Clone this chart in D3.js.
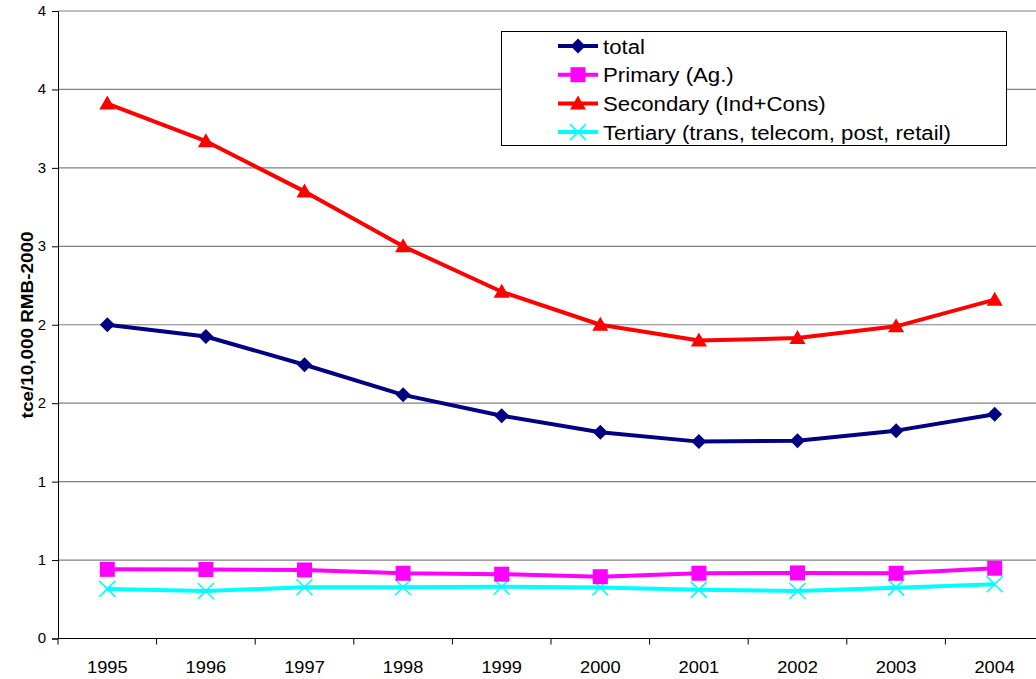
<!DOCTYPE html>
<html>
<head>
<meta charset="utf-8">
<script src="https://cdn.jsdelivr.net/npm/d3@7"></script>
<style>
  body { margin: 0; background: #fff; }
  svg text { font-family: "Liberation Sans", Arial, sans-serif; fill: #000; }
</style>
</head>
<body>
<svg id="chart" width="1036" height="679"></svg>
<script>
// data
var years = ["1995","1996","1997","1998","1999","2000","2001","2002","2003","2004"];
var total     = [2.00, 1.925, 1.745, 1.553, 1.42, 1.315, 1.255, 1.26, 1.325, 1.43];
var primary   = [0.441, 0.44, 0.437, 0.416, 0.41, 0.394, 0.416, 0.418, 0.416, 0.448];
var secondary = [3.41, 3.17, 2.85, 2.50, 2.21, 2.00, 1.90, 1.915, 1.99, 2.16];
var tertiary  = [0.316, 0.303, 0.327, 0.327, 0.33, 0.325, 0.31, 0.303, 0.324, 0.346];
var yTicks = [0, 0.5, 1, 1.5, 2, 2.5, 3, 3.5, 4];
var seriesNames = ["total", "Primary (Ag.)", "Secondary (Ind+Cons)", "Tertiary (trans, telecom, post, retail)"];

var series = [
  { name: seriesNames[0], values: total,     color: "#000080", marker: "diamond" },
  { name: seriesNames[1], values: primary,   color: "#ff00ff", marker: "square" },
  { name: seriesNames[2], values: secondary, color: "#ff0000", marker: "triangle" },
  { name: seriesNames[3], values: tertiary,  color: "#00ffff", marker: "cross" }
];

var svg = d3.select("#chart");
var plotLeft = 58, plotRight = 1044, plotTop = 11, plotBottom = 638.5;

var x = d3.scaleBand().domain(years).range([plotLeft, plotRight]);
var y = d3.scaleLinear().domain([0, 4]).range([plotBottom, plotTop]);

// the original text is a bit wider than Liberation Sans, stretch it
function stretch(sel, k) {
  sel.each(function() {
    var w = this.getComputedTextLength();
    d3.select(this).attr("textLength", w * k).attr("lengthAdjust", "spacingAndGlyphs");
  });
}

// gridlines
svg.append("g").selectAll("line").data(yTicks.filter(function(d) { return d > 0; }))
  .enter().append("line")
  .attr("x1", plotLeft).attr("x2", plotRight)
  .attr("y1", function(d) { return y(d); }).attr("y2", function(d) { return y(d); })
  .attr("stroke", "#808080").attr("stroke-width", 1.2);

// y axis
var yAxis = d3.axisLeft(y).tickValues(yTicks).tickSize(6).tickPadding(6)
  .tickFormat(function(d) { return Math.round(d + 1e-9).toString(); });
var gy = svg.append("g").attr("transform", "translate(" + plotLeft + ",0)").call(yAxis);
gy.select(".domain").attr("stroke", "#000");
gy.selectAll(".tick line").attr("stroke", "#000");
gy.selectAll("text").style("font-size", "14px").attr("fill", "#000").call(stretch, 1.07);

// x axis: ticks between categories
var gx = svg.append("g").attr("transform", "translate(0," + plotBottom + ")");
gx.append("line").attr("x1", plotLeft).attr("x2", plotRight).attr("stroke", "#000");
gx.selectAll("line.tk").data(years.concat(["end"]))
  .enter().append("line").attr("class", "tk")
  .attr("x1", function(d, i) { return plotLeft + i * x.bandwidth(); })
  .attr("x2", function(d, i) { return plotLeft + i * x.bandwidth(); })
  .attr("y1", 0).attr("y2", 6).attr("stroke", "#000");
gx.selectAll("text").data(years).enter().append("text")
  .attr("x", function(d) { return x(d) + x.bandwidth() / 2; })
  .attr("y", 34)
  .attr("text-anchor", "middle")
  .style("font-size", "16px")
  .text(function(d) { return d; })
  .call(stretch, 1.14);

// y axis title
svg.append("text")
  .attr("transform", "translate(33,325) rotate(-90)")
  .attr("text-anchor", "middle")
  .style("font-size", "16px").style("font-weight", "bold")
  .text("tce/10,000 RMB-2000")
  .call(stretch, 1.18);

function cx(i) { return x(years[i]) + x.bandwidth() / 2; }

function drawMarker(g, type, color, px, py) {
  if (type === "diamond") {
    g.append("path").attr("d", "M" + px + "," + (py - 7.5) + "L" + (px + 7.5) + "," + py + "L" + px + "," + (py + 7.5) + "L" + (px - 7.5) + "," + py + "Z")
      .attr("fill", color);
  } else if (type === "square") {
    g.append("rect").attr("x", px - 7.5).attr("y", py - 7.5).attr("width", 15).attr("height", 15).attr("fill", color);
  } else if (type === "triangle") {
    g.append("path").attr("d", "M" + px + "," + (py - 8) + "L" + (px + 8) + "," + (py + 6) + "L" + (px - 8) + "," + (py + 6) + "Z")
      .attr("fill", color);
  } else {
    g.append("path").attr("d", "M" + (px - 8) + "," + (py - 8) + "L" + (px + 8) + "," + (py + 8) + "M" + (px + 8) + "," + (py - 8) + "L" + (px - 8) + "," + (py + 8))
      .attr("stroke", color).attr("stroke-width", 1.6).attr("fill", "none");
  }
}

var line = d3.line().x(function(d, i) { return cx(i); }).y(function(d) { return y(d); });

// tertiary underneath, total on top
[3, 1, 2, 0].forEach(function(k) {
  var s = series[k];
  var g = svg.append("g");
  g.append("path").datum(s.values).attr("d", line)
    .attr("fill", "none").attr("stroke", s.color).attr("stroke-width", 4)
    .attr("stroke-linejoin", "round");
  s.values.forEach(function(v, i) { drawMarker(g, s.marker, s.color, cx(i), y(v)); });
});

// legend
var lg = svg.append("g");
lg.append("rect").attr("x", 501.5).attr("y", 31.5).attr("width", 505).attr("height", 114)
  .attr("fill", "#fff").attr("stroke", "#000").attr("stroke-width", 1);
series.forEach(function(s, i) {
  var ly = 46 + i * 28.7;
  lg.append("line").attr("x1", 558).attr("x2", 598).attr("y1", ly).attr("y2", ly)
    .attr("stroke", s.color).attr("stroke-width", 4);
  drawMarker(lg, s.marker, s.color, 578, ly);
  lg.append("text").attr("x", 603).attr("y", ly + 7.5)
    .style("font-size", "20px").text(s.name)
    .call(stretch, 1.11);
});
</script>
</body>
</html>
